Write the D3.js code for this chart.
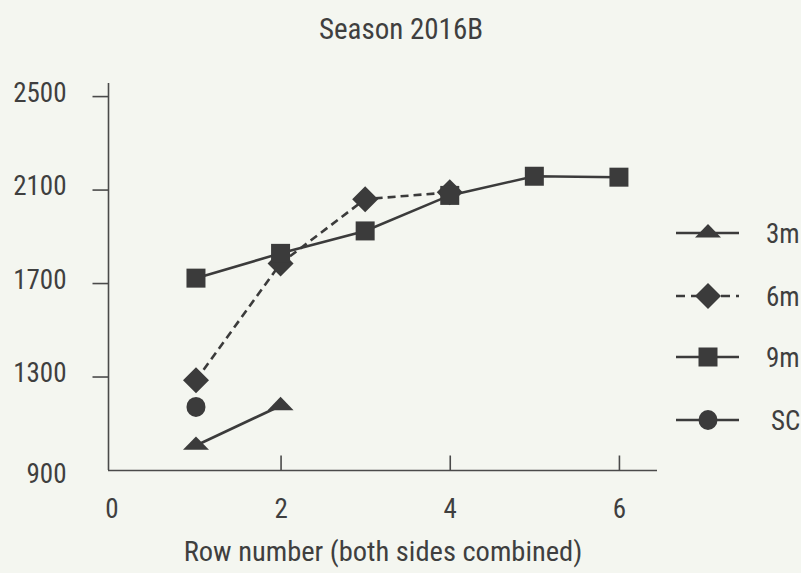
<!DOCTYPE html>
<html><head><meta charset="utf-8">
<script src="https://cdn.jsdelivr.net/npm/d3@7"></script>
<style>
html,body{margin:0;padding:0;background:#f4f6f0;}
svg{display:block;}
text{font-family:"Liberation Sans Narrow","Arial Narrow","Roboto Condensed",sans-serif;fill:#3f3f3f;}
</style></head><body>
<svg id="chart" width="801" height="573"></svg>
<script>
// ---- data ----
const title = "Season 2016B";
const xAxisTitle = "Row number (both sides combined)";
const xTicks = [0, 2, 4, 6];
const yTicks = [900, 1300, 1700, 2100, 2500];
const seriesNames = ["3m", "6m", "9m", "SC"];
const x3m = [1, 2];
const y3m = [1005, 1175];
const x6m = [1, 2, 3, 4];
const y6m = [1284, 1784, 2059, 2088];
const x9m = [1, 2, 3, 4, 5, 6];
const y9m = [1721, 1827, 1923, 2075, 2157, 2153];
const xSC = [1];
const ySC = [1170];

const series = [
  {name: seriesNames[0], xs: x3m, ys: y3m, shape: "triangle", dash: null},
  {name: seriesNames[1], xs: x6m, ys: y6m, shape: "diamond", dash: "8,5"},
  {name: seriesNames[2], xs: x9m, ys: y9m, shape: "square", dash: null},
  {name: seriesNames[3], xs: xSC, ys: ySC, shape: "circle", dash: null}
];

const ink = "#3b3b3b";
const svg = d3.select("#chart");
svg.append("rect").attr("width", 801).attr("height", 573).attr("fill", "#f4f6f0");

const x = d3.scaleLinear().domain([-0.04, 6.45]).range([108, 657]);
const y = d3.scaleLinear().domain([900, 2556]).range([470, 83]);

// axes
const yAxis = svg.append("g").attr("transform", "translate(108.5,0)")
  .call(d3.axisLeft(y).tickValues(yTicks).tickSize(16).tickPadding(26).tickFormat(d3.format("d")));
yAxis.select(".domain").attr("d", `M0,${y.range()[1]}V${y.range()[0]}`);
yAxis.selectAll(".tick").filter(d => d === 900).select("line").remove();
const xAxis = svg.append("g").attr("transform", "translate(0,470.5)")
  .call(d3.axisBottom(x).tickValues(xTicks).tickSize(-15).tickPadding(30).tickFormat(d3.format("d")));
xAxis.select(".domain").attr("d", `M${x.range()[0]},0H${x.range()[1]}`);
xAxis.selectAll(".tick").filter(d => d === 0).select("line").remove();
[yAxis, xAxis].forEach(g => {
  g.select(".domain").attr("stroke", "#4a4a4a").attr("stroke-width", 1.6);
  g.selectAll(".tick line").attr("stroke", "#4a4a4a").attr("stroke-width", 1.6);
  g.selectAll(".tick text").style("font-size", "27px").attr("fill", "#3f3f3f");
});
yAxis.selectAll(".tick text").attr("dy", d => d === 900 ? "0.45em" : "0.2em");
xAxis.selectAll(".tick text").attr("dy", "0.65em");

// shapes
function shapePath(shape) {
  if (shape === "triangle") return "M0,-9L13,4.4L-13,4.4Z";
  if (shape === "diamond") return "M0,-13L13,0L0,13L-13,0Z";
  if (shape === "square") return "M-9.5,-9.5H9.5V9.5H-9.5Z";
  return null;
}
function drawMarker(g, shape, cx, cy) {
  if (shape === "circle") {
    g.append("ellipse").attr("cx", cx).attr("cy", cy).attr("rx", 9.5).attr("ry", 10).attr("fill", ink);
  } else {
    g.append("path").attr("d", shapePath(shape)).attr("transform", `translate(${cx},${cy})`).attr("fill", ink);
  }
}

const line = d3.line().x(d => x(d[0])).y(d => y(d[1]));
const plot = svg.append("g");
series.forEach(s => {
  const pts = s.xs.map((v, i) => [v, s.ys[i]]);
  if (pts.length > 1) {
    plot.append("path").attr("d", line(pts)).attr("fill", "none")
      .attr("stroke", ink).attr("stroke-width", 2.6)
      .attr("stroke-dasharray", s.dash);
  }
});
series.forEach(s => {
  s.xs.forEach((v, i) => drawMarker(plot, s.shape, x(v), y(s.ys[i])));
});

// legend
const legY = [233, 296, 357, 420];
const leg = svg.append("g");
series.forEach((s, i) => {
  leg.append("line").attr("x1", 676).attr("x2", 739).attr("y1", legY[i]).attr("y2", legY[i])
    .attr("stroke", ink).attr("stroke-width", 2.6).attr("stroke-dasharray", s.dash ? "9,6" : null);
  drawMarker(leg, s.shape, 708, legY[i]);
  leg.append("text").attr("x", i === 3 ? 771 : 766).attr("y", legY[i]).attr("dy", "0.36em")
    .style("font-size", "27px").text(s.name);
});

// titles
svg.append("text").attr("x", 401).attr("y", 39).attr("text-anchor", "middle")
  .style("font-size", "29px").text(title);
svg.append("text").attr("x", 383).attr("y", 561).attr("text-anchor", "middle")
  .style("font-size", "28.5px").text(xAxisTitle);
</script></body></html>
